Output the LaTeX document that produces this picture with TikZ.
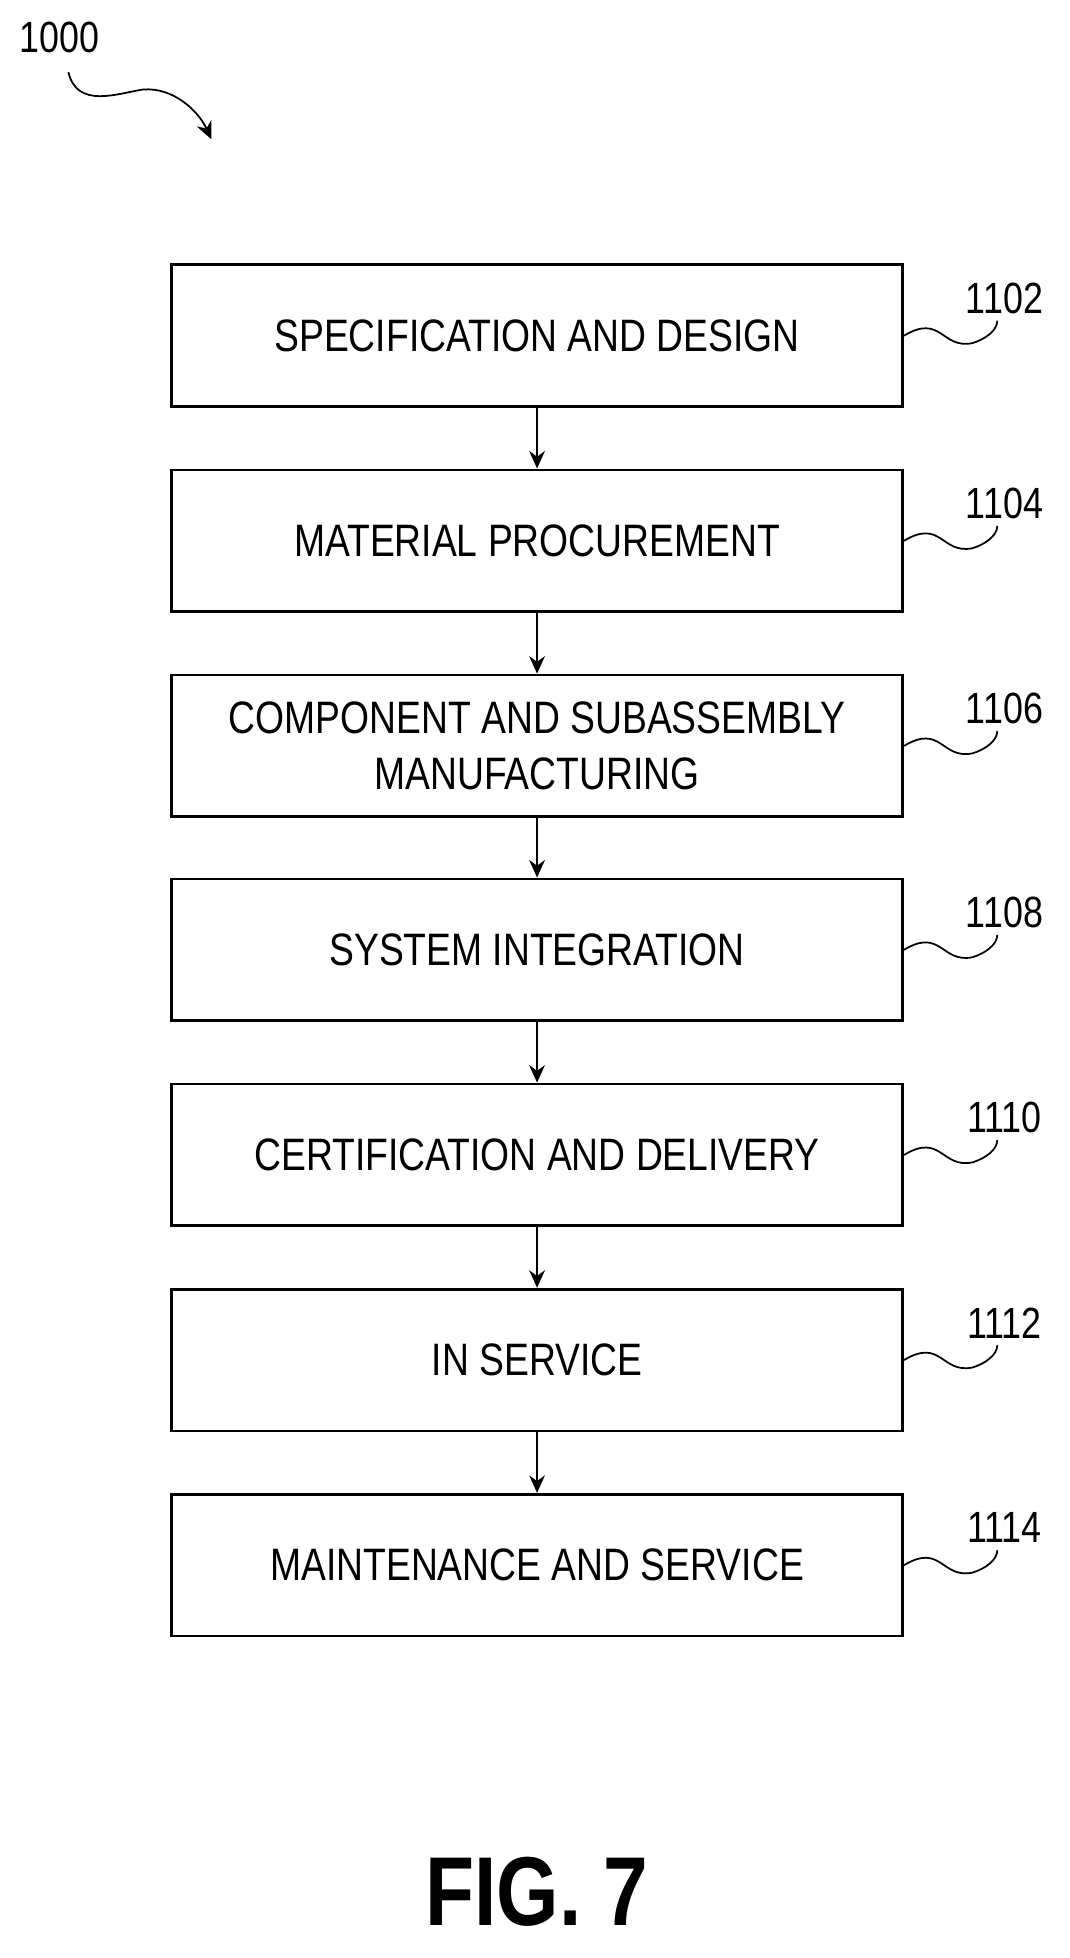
\documentclass[tikz,border=0pt]{standalone}
\usepackage{fontspec}
\setmainfont{Liberation Sans}[FakeStretch=0.82]
\usetikzlibrary{positioning,arrows.meta}
\begin{document}
\begin{tikzpicture}[x=0.025cm,y=-0.025cm,>={Stealth[length=10pt,width=9pt]},
  stage/.style={draw, line width=1.6pt, minimum width=14.7cm, minimum height=2.85cm, align=center, font=\fontsize{26}{32}\selectfont},
  ref/.style={font=\fontsize{25}{30}\selectfont},
  lead/.style={line width=1pt}]
\useasboundingbox (0,0) rectangle (860,1575);
% figure reference
\node[ref] (fig) at (48,30) {1000};
\coordinate (figtip) at (170,112);
\draw[lead,->] (55,58) .. controls (62,88) and (95,75) .. (115,72) .. controls (140,70) and (160,90) .. (figtip);
% process steps
\foreach \i/\y/\txt in {1102/270/SPECIFICATION AND DESIGN,
  1104/435/MATERIAL PROCUREMENT,
  1106/600/COMPONENT AND SUBASSEMBLY\\MANUFACTURING,
  1108/764/SYSTEM INTEGRATION,
  1110/929/CERTIFICATION AND DELIVERY,
  1112/1094/IN SERVICE,
  1114/1259/MAINTENANCE AND SERVICE} {
  \node[stage] (s\i) at (432,\y) {\txt};
  \node[ref] (n\i) at (808,\y-30) {\i};
  \draw[lead] (s\i.east) .. controls ++(30,-18) and ++(-25,5) .. ++(55,6) .. controls ++(10,-3) and ++(0,8) .. ++(20,-18);
}
% connectors
\foreach \a/\b in {1102/1104,1104/1106,1106/1108,1108/1110,1110/1112,1112/1114}
  \draw[lead,->] (s\a) -- (s\b);
\node[font=\bfseries\fontsize{56}{60}\selectfont] (cap) at (432,1522) {FIG. 7};
\end{tikzpicture}
\end{document}
